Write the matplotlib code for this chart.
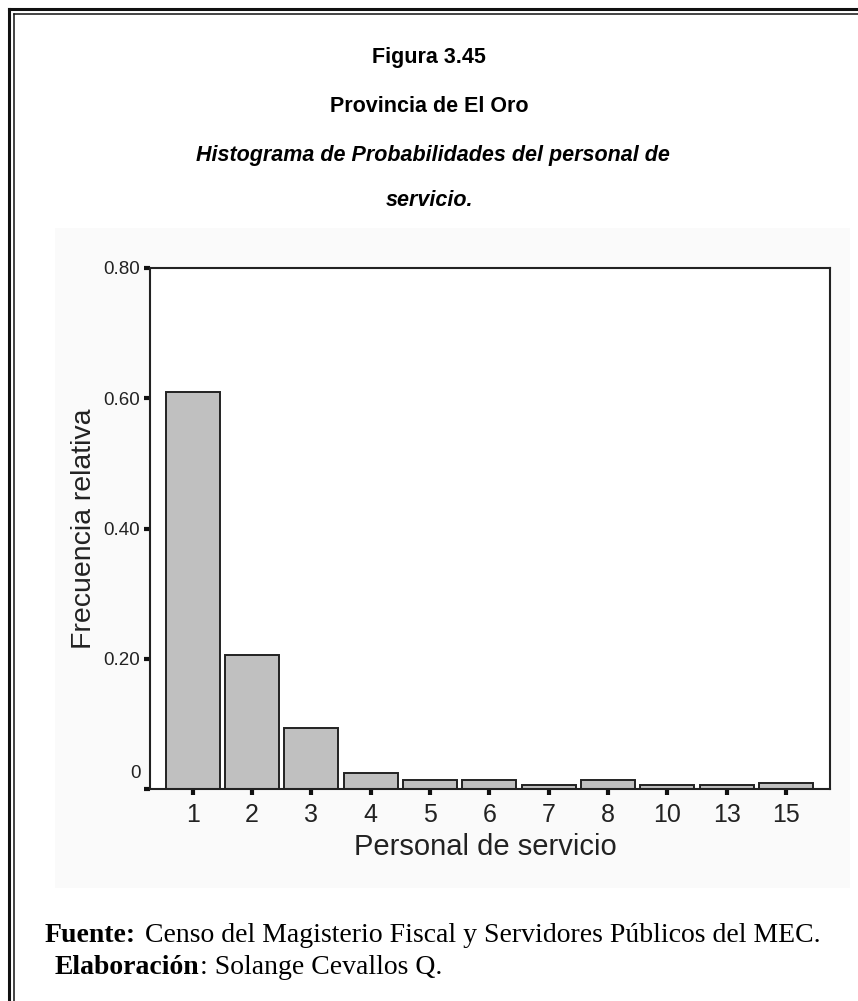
#############
# Libraries #
#############

import matplotlib.pyplot as plt
import matplotlib.transforms as mtransforms
from matplotlib.patches import Rectangle
from matplotlib.lines import Line2D
import numpy as np

########
# Data #
########

categories = ["1", "2", "3", "4", "5", "6", "7", "8", "10", "13", "15"]
frecuencia = [0.61, 0.206, 0.093, 0.025, 0.014, 0.014, 0.006, 0.014, 0.006, 0.006, 0.009]
y_ticks = [0.0, 0.20, 0.40, 0.60, 0.80]
y_tick_labels = ["0", "0.20", "0.40", "0.60", "0.80"]

titulo = "Figura 3.45"
provincia = "Provincia de El Oro"
subtitulo_1 = "Histograma de Probabilidades del personal de"
subtitulo_2 = "servicio."
fuente = "Censo del Magisterio Fiscal y Servidores Públicos del MEC."
elaboracion = "Solange Cevallos Q."

#############
# Functions #
#############

def chain_text(fig, x0, y, parts, size):
    """
    Writes several pieces of text one after the other on the same line.
    parts is a list of (text, weight, gap in pixels before it).
    """
    renderer = fig.canvas.get_renderer()
    x = x0
    for text, weight, gap in parts:
        x += gap
        t = fig.text(x / fig.bbox.width, y, text, ha="left", va="center",
                     fontsize=size, fontweight=weight, family="Liberation Serif")
        x = t.get_window_extent(renderer).x1

###########
# Program #
###########

if __name__ == '__main__':
    fig = plt.figure(figsize=(8.58, 10.01), dpi=100)
    W, H = 858, 1001

    def fx(px):
        return px / W

    def fy(py):
        return 1 - py / H

    # double frame on left and top
    dark = "#111111"
    fig.add_artist(Line2D([fx(9), fx(9)], [0, fy(9)], color=dark, lw=2.2))
    fig.add_artist(Line2D([fx(9), 1], [fy(9), fy(9)], color=dark, lw=2.2))
    fig.add_artist(Line2D([fx(14), fx(14)], [0, fy(14)], color=dark, lw=1.1))
    fig.add_artist(Line2D([fx(14), 1], [fy(14), fy(14)], color=dark, lw=1.1))

    # faint background of the chart picture
    fig.add_artist(Rectangle((fx(55), fy(888)), fx(850) - fx(55), fy(228) - fy(888),
                             facecolor="#fafafa", edgecolor="none", zorder=0))

    # titles
    title_kw = dict(ha="center", va="center", fontsize=15.5, fontweight="bold",
                    family="Liberation Sans")
    fig.text(0.5, fy(58), titulo, **title_kw)
    fig.text(0.5, fy(106), provincia, **title_kw)
    fig.text(0.505, fy(155), subtitulo_1, style="italic", **title_kw)
    fig.text(0.5, fy(200), subtitulo_2, style="italic", **title_kw)

    ax = fig.add_axes([fx(150), fy(789), fx(830) - fx(150), fy(268) - fy(789)])
    ax.set_facecolor("white")
    x = np.arange(len(categories))
    ax.bar(x, frecuencia, width=0.91, color="#c0c0c0", edgecolor="#222222", linewidth=1.4)
    ax.set_xlim(-0.72, len(categories) - 1 + 0.74)
    ax.set_ylim(0, 0.80)

    for s in ax.spines.values():
        s.set_color("#222222")
        s.set_linewidth(1.5)

    ax.set_xticks(x)
    ax.set_xticklabels(categories, fontsize=18, family="Liberation Sans", color="#222222")
    ax.set_yticks(y_ticks)
    ax.set_yticklabels(y_tick_labels, fontsize=13.5, family="Liberation Sans", color="#222222")
    ax.tick_params(axis="both", direction="out", length=4, width=3, color="#111111")
    ax.tick_params(axis="x", pad=6)
    ax.tick_params(axis="y", pad=3)

    # the 0 label sits a little above its tick
    lbl0 = ax.get_yticklabels()[0]
    lbl0.set_transform(lbl0.get_transform() +
                       mtransforms.ScaledTranslation(0, 17 / 100, fig.dpi_scale_trans))

    ax.set_xlabel("Personal de servicio", fontsize=21, family="Liberation Sans",
                  color="#222222")
    ax.xaxis.set_label_coords(0.493, -0.111)
    ax.xaxis.label.set_va("center")
    ax.set_ylabel("Frecuencia relativa", fontsize=20.5, family="Liberation Sans",
                  color="#222222", labelpad=5)

    # footer
    chain_text(fig, 45, fy(935), [("Fuente:", "bold", 0), (fuente, "normal", 9)], 20)
    chain_text(fig, 55, fy(967), [("Elaboración", "bold", 0), (": " + elaboracion, "normal", 0)], 20)

    fig.savefig("out.png", dpi=100)
